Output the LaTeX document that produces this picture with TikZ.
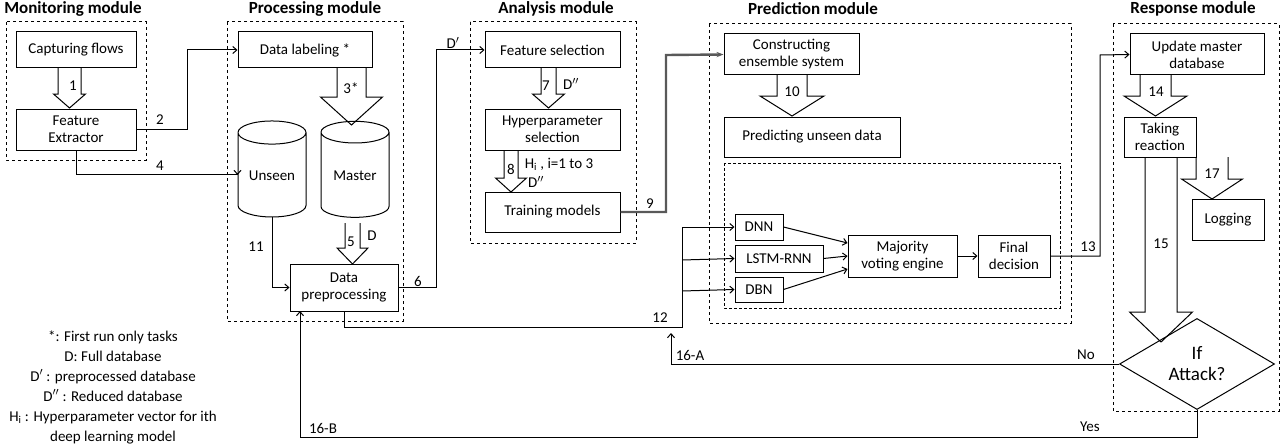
\documentclass[tikz,border=0pt]{standalone}
\usepackage{fontspec}
\setmainfont{Carlito}
\usetikzlibrary{arrows.meta,
                calc,
                positioning,
                shapes.geometric}
\tikzset{
every picture/.style={
line width=1pt
}}
% hollow block arrow: x, top, head top, tip, half shaft, half head
\newcommand\hollowarrow[6]{%
  \draw (#1-#5,#2) -- (#1-#5,#3) -- (#1-#6,#3) -- (#1,#4)
        -- (#1+#6,#3) -- (#1+#5,#3) -- (#1+#5,#2);}

\begin{document}
\begin{tikzpicture}[x=1pt, y=-1pt,
      font=\fontsize{15}{17}\selectfont,
      box/.style = {draw, rectangle, align=center, inner sep=1pt},
   module/.style = {draw, dashed},
    title/.style = {font=\fontsize{17}{19}\selectfont\bfseries},
       db/.style = {draw, cylinder, shape border rotate=90, aspect=0.5,
                    minimum width=68pt, minimum height=96pt, inner sep=0pt},
      lbl/.style = {inner sep=1pt},
      arr/.style = {-{Straight Barb[length=4pt,width=7pt]}}
                    ]
\useasboundingbox (0,0) rectangle (1280,444);
%% modules
\draw[module] (6,22) rectangle (146,160);
\draw[module] (227,22) rectangle (403,321);
\draw[module] (470,22) rectangle (636,243);
\draw[module] (709,24) rectangle (1071,323);
\draw[module, densely dashed] (724,163) rectangle (1060,308);
\draw[module] (1113,24) rectangle (1279,411);
\node[title] at (73,9)   {Monitoring module};
\node[title] at (315,9)  {Processing module};
\node[title] at (556,9)  {Analysis module};
\node[title] at (813,9)  {Prediction module};
\node[title] at (1193,9) {Response module};
%% monitoring
\node [box, minimum width=120pt, minimum height=36pt] (capture) at (76,50)  {Capturing flows};
\node [box, minimum width=120pt, minimum height=41pt] (extract) at (76,129.5) {Feature\\Extractor};
%% processing
\node [box, minimum width=134pt, minimum height=36pt] (label)   at (305,50) {Data labeling *};
\node [db] (unseen) at (272,175) {\raisebox{-12pt}{Unseen}};
\node [db] (master) at (355,175) {\raisebox{-12pt}{Master}};
\node [box, minimum width=108pt, minimum height=47pt] (prep)    at (344,287.5) {Data\\preprocessing};
%% analysis
\node [box, minimum width=135pt, minimum height=36pt] (fsel)  at (552.5,50)  {Feature selection};
\node [box, minimum width=135pt, minimum height=41pt] (hsel)  at (552.5,129.5) {Hyperparameter\\selection};
\node [box, minimum width=135pt, minimum height=40pt] (train) at (552.5,212) {Training models};
%% prediction
\node [box, minimum width=135pt, minimum height=41pt] (ensemble) at (791.5,54.5) {Constructing\\ensemble system};
\node [box, minimum width=176pt, minimum height=40pt] (predict)  at (812,137)  {Predicting unseen data};
\node [box, minimum width=48pt, minimum height=26pt]  (dnn)  at (759,227)   {DNN};
\node [box, minimum width=88pt, minimum height=27pt]  (lstm) at (779,258.5) {LSTM-RNN};
\node [box, minimum width=48pt, minimum height=25pt]  (dbn)  at (759,289.5) {DBN};
\node [box, minimum width=109pt, minimum height=42pt] (vote) at (902.5,256) {Majority\\voting engine};
\node [box, minimum width=72pt, minimum height=42pt]  (final) at (1014,256) {Final\\decision};
%% response
\node [box, minimum width=134pt, minimum height=41pt] (update) at (1197,54.5) {Update master\\database};
\node [box, minimum width=72pt, minimum height=40pt]  (react)  at (1160,137)  {Taking\\reaction};
\node [box, minimum width=72pt, minimum height=41pt]  (log)    at (1228,219.5) {Logging};
\node [draw, diamond, minimum width=155pt, minimum height=82pt, inner sep=0pt,
       font=\fontsize{19}{21}\selectfont, align=center] (attack) at (1197,364) {If\\Attack?};
%% block arrows
\hollowarrow{69.5}{68}{94}{108}{11.5}{16}
\hollowarrow{351.5}{68}{97}{125}{14.5}{31}
\hollowarrow{352.5}{223}{248}{264}{7.5}{15.5}
\hollowarrow{548.5}{68}{94}{108}{7.5}{16}
\hollowarrow{511}{150}{178}{192}{7}{15.5}
\hollowarrow{792}{75}{96}{116}{15}{32}
\hollowarrow{1155.5}{75}{96}{116}{15.5}{31.5}
\hollowarrow{1212}{157}{179}{199}{16}{30.5}
\hollowarrow{1161}{157}{312}{342}{16}{31.5}
\node[lbl] at (73,86)    {1};
\node[lbl] at (351,88)   {3*};
\node[lbl] at (351,242)  {5};
\node[lbl] at (372,236)  {D};
\node[lbl] at (546,86)   {7};
\node[lbl] at (571,84)   {D$''$};
\node[lbl] at (511,169)  {8};
\node[lbl] at (559,164)  {H$_\mathrm{i}$ , i=1 to 3};
\node[lbl] at (536,182)  {D$''$};
\node[lbl] at (792,92)   {10};
\node[lbl] at (1156,92)  {14};
\node[lbl] at (1212,174) {17};
\node[lbl] at (1161,244) {15};
%% connectors
\draw[arr] (extract.east) -| (187,50) -- (label.west);
\draw[arr] (extract.south) |- (unseen.west |- 0,174) -- (unseen.west);
\draw[arr] (unseen.south) |- (prep.west);
\draw[arr] (prep.east) -| (436,50) -- (fsel.west);
\draw[-{Stealth[length=7pt]}, line width=2.4pt, black!65] (train.east) -| (666,55) -- (ensemble.west);
\draw[arr] (prep.south) |- (682,327) |- (dnn.west);
\draw[arr] (682,260) -- (lstm.west);
\draw[arr] (682,291) -- (dbn.west);
\draw[arr] (dnn.east) -- (vote.west |- 0,243);
\draw[arr] (lstm.east) -- (vote.west |- 0,256);
\draw[arr] (dbn.east) -- (vote.west |- 0,269);
\draw[arr] (vote.east) -- (final.west);
\draw[arr] (final.east) -| (1100,55) -- (update.west);
\draw[arr] (attack.west) -| (671,333);
\draw[arr] (attack.south) |- (300,437) -- (300,311);
\node[lbl] at (160,120)  {2};
\node[lbl] at (160,166)  {4};
\node[lbl] at (256,247)  {11};
\node[lbl] at (418,281)  {6};
\node[lbl] at (453,43)   {D$'$};
\node[lbl] at (650,204)  {9};
\node[lbl] at (660,318)  {12};
\node[lbl] at (1088,247) {13};
\node[lbl] at (690,355)  {16-A};
\node[lbl] at (1086,355) {No};
\node[lbl] at (323,428)  {16-B};
\node[lbl] at (1090,427) {Yes};
%% legend
\node[align=center, font=\fontsize{15}{20}\selectfont] at (113,387)
  {*: First run only tasks\\D: Full database\\D$'$ : preprocessed database\\D$''$ : Reduced database\\H$_\mathrm{i}$ : Hyperparameter vector for ith\\deep learning model};
\end{tikzpicture}
\end{document}
